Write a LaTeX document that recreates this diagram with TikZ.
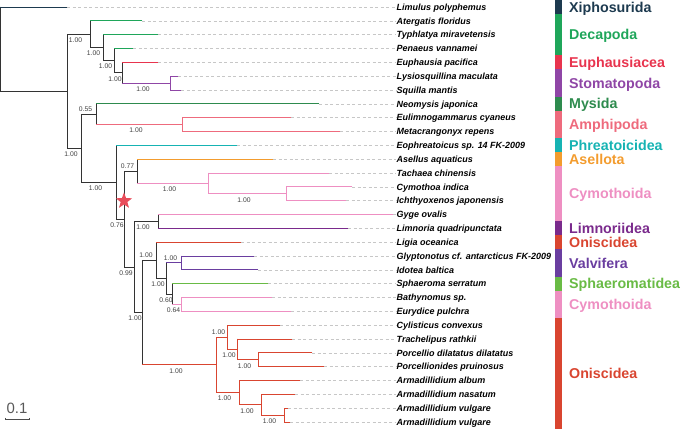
\documentclass[tikz,border=0pt]{standalone}
\usepackage{fontspec}
\setmainfont{Liberation Sans}
\usepackage{xcolor}
\usepackage{tikz}
\usetikzlibrary{calc,shapes.geometric}
\definecolor{bb}{HTML}{333333}
\definecolor{xipho}{HTML}{1D3A4F}
\definecolor{deca}{HTML}{1FA65A}
\definecolor{euph}{HTML}{E8344E}
\definecolor{stoma}{HTML}{8F46A6}
\definecolor{mysi}{HTML}{2E8B4E}
\definecolor{amphi}{HTML}{EE6B7D}
\definecolor{phrea}{HTML}{16B3B3}
\definecolor{asell}{HTML}{F39C2E}
\definecolor{cymo}{HTML}{EE8FC2}
\definecolor{limno}{HTML}{7A2A8C}
\definecolor{onisc}{HTML}{D94530}
\definecolor{valvi}{HTML}{6A3EA0}
\definecolor{sphae}{HTML}{69BB45}
\definecolor{starred}{HTML}{E84D5B}

\tikzset{
  branch/.style={line width=0.9bp, line cap=rect},
  leader/.style={draw=black!22, line width=0.4bp, dash pattern=on 3bp off 2.5bp},
  taxon/.style={anchor=west, inner sep=0.5bp, text height=6.4bp, text depth=0pt,
    font=\fontsize{9}{9}\selectfont\bfseries\itshape},
  bsval/.style={inner sep=0pt, text=black!75, font=\fontsize{6.8}{7}\selectfont},
  order/.style={anchor=west, inner sep=0pt, text height=10.2bp, text depth=0pt,
    font=\fontsize{14.3}{14}\selectfont\bfseries},
}

\begin{document}
\begin{tikzpicture}[x=1bp, y=-13.833bp]
\useasboundingbox (0,-0.506) rectangle (683,30.507);

% tips, labels and leaders
\foreach \i/\x/\name in {0/67/Limulus polyphemus, 1/142/Atergatis floridus,
  2/158/Typhlatya miravetensis, 3/133/Penaeus vannamei, 4/158/Euphausia pacifica,
  5/178/Lysiosquillina maculata, 6/181/Squilla mantis, 7/319/Neomysis japonica,
  8/291/Eulimnogammarus cyaneus, 9/340/Metacrangonyx repens,
  10/237/Eophreatoicus sp. 14 FK-2009, 11/273/Asellus aquaticus,
  12/329/Tachaea chinensis, 13/352/Cymothoa indica, 14/346/Ichthyoxenos japonensis,
  15/393/Gyge ovalis, 16/348/Limnoria quadripunctata, 17/241/Ligia oceanica,
  18/254/Glyptonotus cf. antarcticus FK-2009, 19/258/Idotea baltica,
  20/268/Sphaeroma serratum, 21/272/Bathynomus sp., 22/291/Eurydice pulchra,
  23/280/Cylisticus convexus, 24/292/Trachelipus rathkii,
  25/312/Porcellio dilatatus dilatatus, 26/324/Porcellionides pruinosus,
  27/300/Armadillidium album, 28/295/Armadillidium nasatum,
  29/288/Armadillidium vulgare, 30/290/Armadillidium vulgare}{
  \coordinate (tip\i) at (\x,\i);
  \node[taxon] (lab\i) at (396,\i) {\name};
  \draw[leader] (tip\i) -- (lab\i.west);
}

% internal nodes
\coordinate (root) at (0.5,3.044);
\coordinate (nIn) at (67,6.089);
\coordinate (nA) at (90,1.969);
\coordinate (nB) at (103,2.938);
\coordinate (nC) at (114,3.875);
\coordinate (nD) at (122,4.75);
\coordinate (nE) at (170,5.5);
\coordinate (nF) at (81,10.209);
\coordinate (nG) at (96,7.75);
\coordinate (nH) at (182,8.5);
\coordinate (nI) at (116,12.668);
\coordinate (nJ) at (124,15.336);
\coordinate (nK) at (137,11.875);
\coordinate (nM) at (208,12.75);
\coordinate (nN) at (286,13.5);
\coordinate (nL) at (134,18.797);
\coordinate (nP) at (158,15.5);
\coordinate (nQ) at (142,22.094);
\coordinate (nS) at (156,18.313);
\coordinate (nT) at (166,19.625);
\coordinate (nU) at (181,18.5);
\coordinate (nV) at (172,20.75);
\coordinate (nW) at (181,21.5);
\coordinate (nR) at (216,25.875);
\coordinate (nRa) at (227,23.875);
\coordinate (nRb) at (237,24.75);
\coordinate (nRc) at (258,25.5);
\coordinate (nRd) at (239,27.875);
\coordinate (nRe) at (261,28.75);
\coordinate (nRf) at (284,29.5);

% branches: parent/child/parent colour/child colour
\foreach \p/\c/\pc/\cc in {root/tip0/bb/xipho, root/nIn/bb/bb,
  nIn/nA/bb/bb, nIn/nF/bb/bb, nA/tip1/bb/deca, nA/nB/bb/bb,
  nB/tip2/bb/deca, nB/nC/bb/bb, nC/tip3/bb/deca, nC/nD/bb/bb,
  nD/tip4/bb/euph, nD/nE/bb/stoma, nE/tip5/stoma/stoma, nE/tip6/stoma/stoma,
  nF/nG/bb/bb, nF/nI/bb/bb, nG/tip7/bb/mysi, nG/nH/bb/amphi,
  nH/tip8/amphi/amphi, nH/tip9/amphi/amphi, nI/tip10/bb/phrea, nI/nJ/bb/bb,
  nJ/nK/bb/bb, nJ/nL/bb/bb, nK/tip11/bb/asell, nK/nM/bb/cymo,
  nM/tip12/cymo/cymo, nM/nN/cymo/cymo, nN/tip13/cymo/cymo, nN/tip14/cymo/cymo,
  nL/nP/bb/bb, nL/nQ/bb/bb, nP/tip15/bb/cymo, nP/tip16/bb/limno,
  nQ/nS/bb/bb, nQ/nR/bb/onisc, nS/tip17/bb/onisc, nS/nT/bb/bb,
  nT/nU/bb/valvi, nT/nV/bb/bb, nU/tip18/valvi/valvi, nU/tip19/valvi/valvi,
  nV/tip20/bb/sphae, nV/nW/bb/cymo, nW/tip21/cymo/cymo, nW/tip22/cymo/cymo,
  nR/nRa/onisc/onisc, nR/nRd/onisc/onisc, nRa/tip23/onisc/onisc, nRa/nRb/onisc/onisc,
  nRb/tip24/onisc/onisc, nRb/nRc/onisc/onisc, nRc/tip25/onisc/onisc, nRc/tip26/onisc/onisc,
  nRd/tip27/onisc/onisc, nRd/nRe/onisc/onisc, nRe/tip28/onisc/onisc, nRe/nRf/onisc/onisc,
  nRf/tip29/onisc/onisc, nRf/tip30/onisc/onisc}{
  \draw[branch, draw=\pc] (\p) -- (\p |- \c);
  \draw[branch, draw=\cc] (\p |- \c) -- (\c);
}

% support values
\foreach \p/\c/\v/\dy in {nIn/nA/1.00/-6, nA/nB/1.00/-6, nB/nC/1.00/-6,
  nC/nD/1.00/-6, nD/nE/1.00/-6, nF/nG/0.55/4.8, nG/nH/1.00/-6, nIn/nF/1.00/-6,
  nF/nI/1.00/-6, nI/nJ/0.76/-6, nJ/nK/0.77/4.8, nK/nM/1.00/-6, nM/nN/1.00/-6,
  nJ/nL/0.99/-6, nL/nP/1.00/-6, nL/nQ/1.00/-6, nQ/nS/1.00/4.8, nS/nT/1.00/-6,
  nT/nU/1.00/4.8, nT/nV/0.60/-6, nV/nW/0.64/-6, nQ/nR/1.00/-6, nR/nRa/1.00/4.8,
  nRa/nRb/1.00/-6, nRb/nRc/1.00/-6, nR/nRd/1.00/-6, nRd/nRe/1.00/-6,
  nRe/nRf/1.00/-6}{
  \node[bsval, xshift=-3bp, yshift=\dy bp] (bs\c) at ($(\p |- \c)!0.5!(\c)$) {\v};
}

\node[star, star points=5, star point ratio=2.4, fill=starred, minimum size=17bp,
  inner sep=0pt] (mark) at (124,14.02) {};

% order bars and names
\foreach \a/\b/\col/\name in {-0.5/0.5/xipho/Xiphosurida, 0.5/3.5/deca/Decapoda,
  3.5/4.5/euph/Euphausiacea, 4.5/6.5/stoma/Stomatopoda, 6.5/7.5/mysi/Mysida,
  7.5/9.5/amphi/Amphipoda, 9.5/10.5/phrea/Phreatoicidea, 10.5/11.5/asell/Asellota,
  11.5/15.5/cymo/Cymothoida, 15.5/16.5/limno/Limnoriidea, 16.5/17.5/onisc/Oniscidea,
  17.5/19.5/valvi/Valvifera, 19.5/20.5/sphae/Sphaeromatidea,
  20.5/22.5/cymo/Cymothoida, 22.5/30.51/onisc/Oniscidea}{
  \fill[\col] (555,\a) rectangle (562,\b);
  \node[order, text=\col] at (569,{(\a+\b)/2}) {\name};
}

% scale bar
\coordinate (sbL) at (5,29.78);
\coordinate (sbR) at (29,29.78);
\draw[black!70, line width=0.8bp] (sbL) -- (sbR);
\draw[black!70, line width=0.8bp] ([yshift=1.2bp]sbL) -- ([yshift=-1.5bp]sbL);
\draw[black!70, line width=0.8bp] ([yshift=1.2bp]sbR) -- ([yshift=-1.5bp]sbR);
\node[inner sep=0pt, text=black!65, font=\fontsize{15}{15}\selectfont] (sbtext)
  at (17,29.03) {0.1};
\end{tikzpicture}
\end{document}
